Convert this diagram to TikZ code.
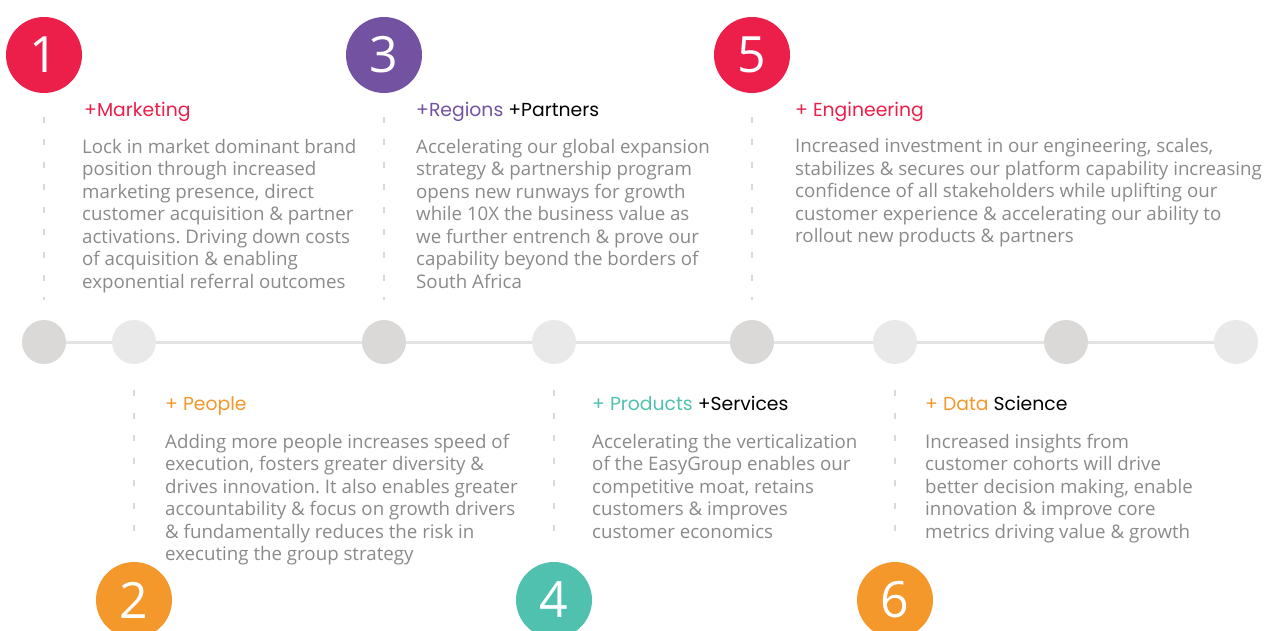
\documentclass[tikz,border=0pt]{standalone}
\usepackage{fontspec}
\setmainfont{Open Sans}
\newfontfamily\headfont{Poppins}
\frenchspacing
\definecolor{cred}{HTML}{EC1E4A}
\definecolor{cpurple}{HTML}{7352A1}
\definecolor{corange}{HTML}{F4982B}
\definecolor{cteal}{HTML}{4FC1AE}
\definecolor{cdark}{HTML}{DAD9D7}
\definecolor{clight}{HTML}{E9E9E9}
\definecolor{cline}{HTML}{E3E3E3}
\definecolor{cbody}{HTML}{8A8A8A}
\definecolor{cdash}{HTML}{D9D9D9}
\begin{document}
\begin{tikzpicture}[x=1pt,y=-1pt,
  numcirc/.style={circle,minimum size=76pt,inner sep=0pt,text=white,font=\fontsize{50}{50}\selectfont},
  dotd/.style={circle,fill=cdark,minimum size=44pt,inner sep=0pt},
  dotl/.style={circle,fill=clight,minimum size=44pt,inner sep=0pt},
  vdash/.style={draw=cdash,line width=2pt,dash pattern=on 6pt off 16.5pt},
  head/.style={anchor=base west,inner sep=0pt,font=\headfont\fontsize{18.8}{22}\selectfont},
  body/.style={anchor=base west,inner sep=0pt,align=left,text=cbody,font=\fontsize{18.7}{22.5}\selectfont\frenchspacing}]
\useasboundingbox (0,0) rectangle (1264,631);
% timeline
\coordinate (tl) at (44,342);
\coordinate (tr) at (1236,342);
\draw[cline,line width=3pt] (tl) -- (tr);
\node[dotd] (d1) at (44,342) {};
\node[dotl] (d2) at (134,342) {};
\node[dotd] (d3) at (384,342) {};
\node[dotl] (d4) at (554,342) {};
\node[dotd] (d5) at (752,342) {};
\node[dotl] (d6) at (895,342) {};
\node[dotd] (d7) at (1066,342) {};
\node[dotl] (d8) at (1236,342) {};
% number circles
\node[numcirc,fill=cred] (n1) at (44,55) {1};
\node[numcirc,fill=cpurple] (n3) at (384,55) {3};
\node[numcirc,fill=cred] (n5) at (752,55) {5};
\node[numcirc,fill=corange] (n2) at (134,600) {2};
\node[numcirc,fill=cteal] (n4) at (554,600) {4};
\node[numcirc,fill=corange] (n6) at (895,600) {6};
% dashed guides
\coordinate (a1) at (44,117); \coordinate (b1) at (44,300);
\coordinate (a3) at (384,117); \coordinate (b3) at (384,300);
\coordinate (a5) at (752,117); \coordinate (b5) at (752,300);
\coordinate (a2) at (134,390); \coordinate (b2) at (134,545);
\coordinate (a4) at (554,390); \coordinate (b4) at (554,545);
\coordinate (a6) at (895,390); \coordinate (b6) at (895,545);
\draw[vdash] (a1) -- (b1);
\draw[vdash] (a3) -- (b3);
\draw[vdash] (a5) -- (b5);
\draw[vdash] (a2) -- (b2);
\draw[vdash] (a4) -- (b4);
\draw[vdash] (a6) -- (b6);
% headings
\node[head,text=cred] (h1) at (84,117) {+Marketing};
\node[head] (h3) at (416,117) {\textcolor{cpurple}{+Regions} +Partners};
\node[head,text=cred] (h5) at (795,117) {+ Engineering};
\node[head,text=corange] (h2) at (165,410) {+ People};
\node[head] (h4) at (592,410) {\textcolor{cteal}{+ Products} +Services};
\node[head] (h6) at (925,410) {\textcolor{corange}{+ Data} Science};
% bodies (base anchor = last line)
\node[body] (t1) at (82,288) {Lock in market dominant brand\\position through increased\\marketing presence, direct\\customer acquisition \& partner\\activations. Driving down costs\\of acquisition \& enabling\\exponential referral outcomes};
\node[body] (t3) at (416,288) {Accelerating our global expansion\\strategy \& partnership program\\opens new runways for growth\\while 10X the business value as\\we further entrench \& prove our\\capability beyond the borders of\\South Africa};
\node[body] (t5) at (795,243) {Increased investment in our engineering, scales,\\stabilizes \& secures our platform capability increasing\\confidence of all stakeholders while uplifting our\\customer experience \& accelerating our ability to\\rollout new products \& partners};
\node[body] (t2) at (165,560.5) {Adding more people increases speed of\\execution, fosters greater diversity \&\\drives innovation. It also enables greater\\accountability \& focus on growth drivers\\\& fundamentally reduces the risk in\\executing the group strategy};
\node[body] (t4) at (592,538) {Accelerating the verticalization\\of the EasyGroup enables our\\competitive moat, retains\\customers \& improves\\customer economics};
\node[body] (t6) at (925,538) {Increased insights from\\customer cohorts will drive\\better decision making, enable\\innovation \& improve core\\metrics driving value \& growth};
\end{tikzpicture}
\end{document}
